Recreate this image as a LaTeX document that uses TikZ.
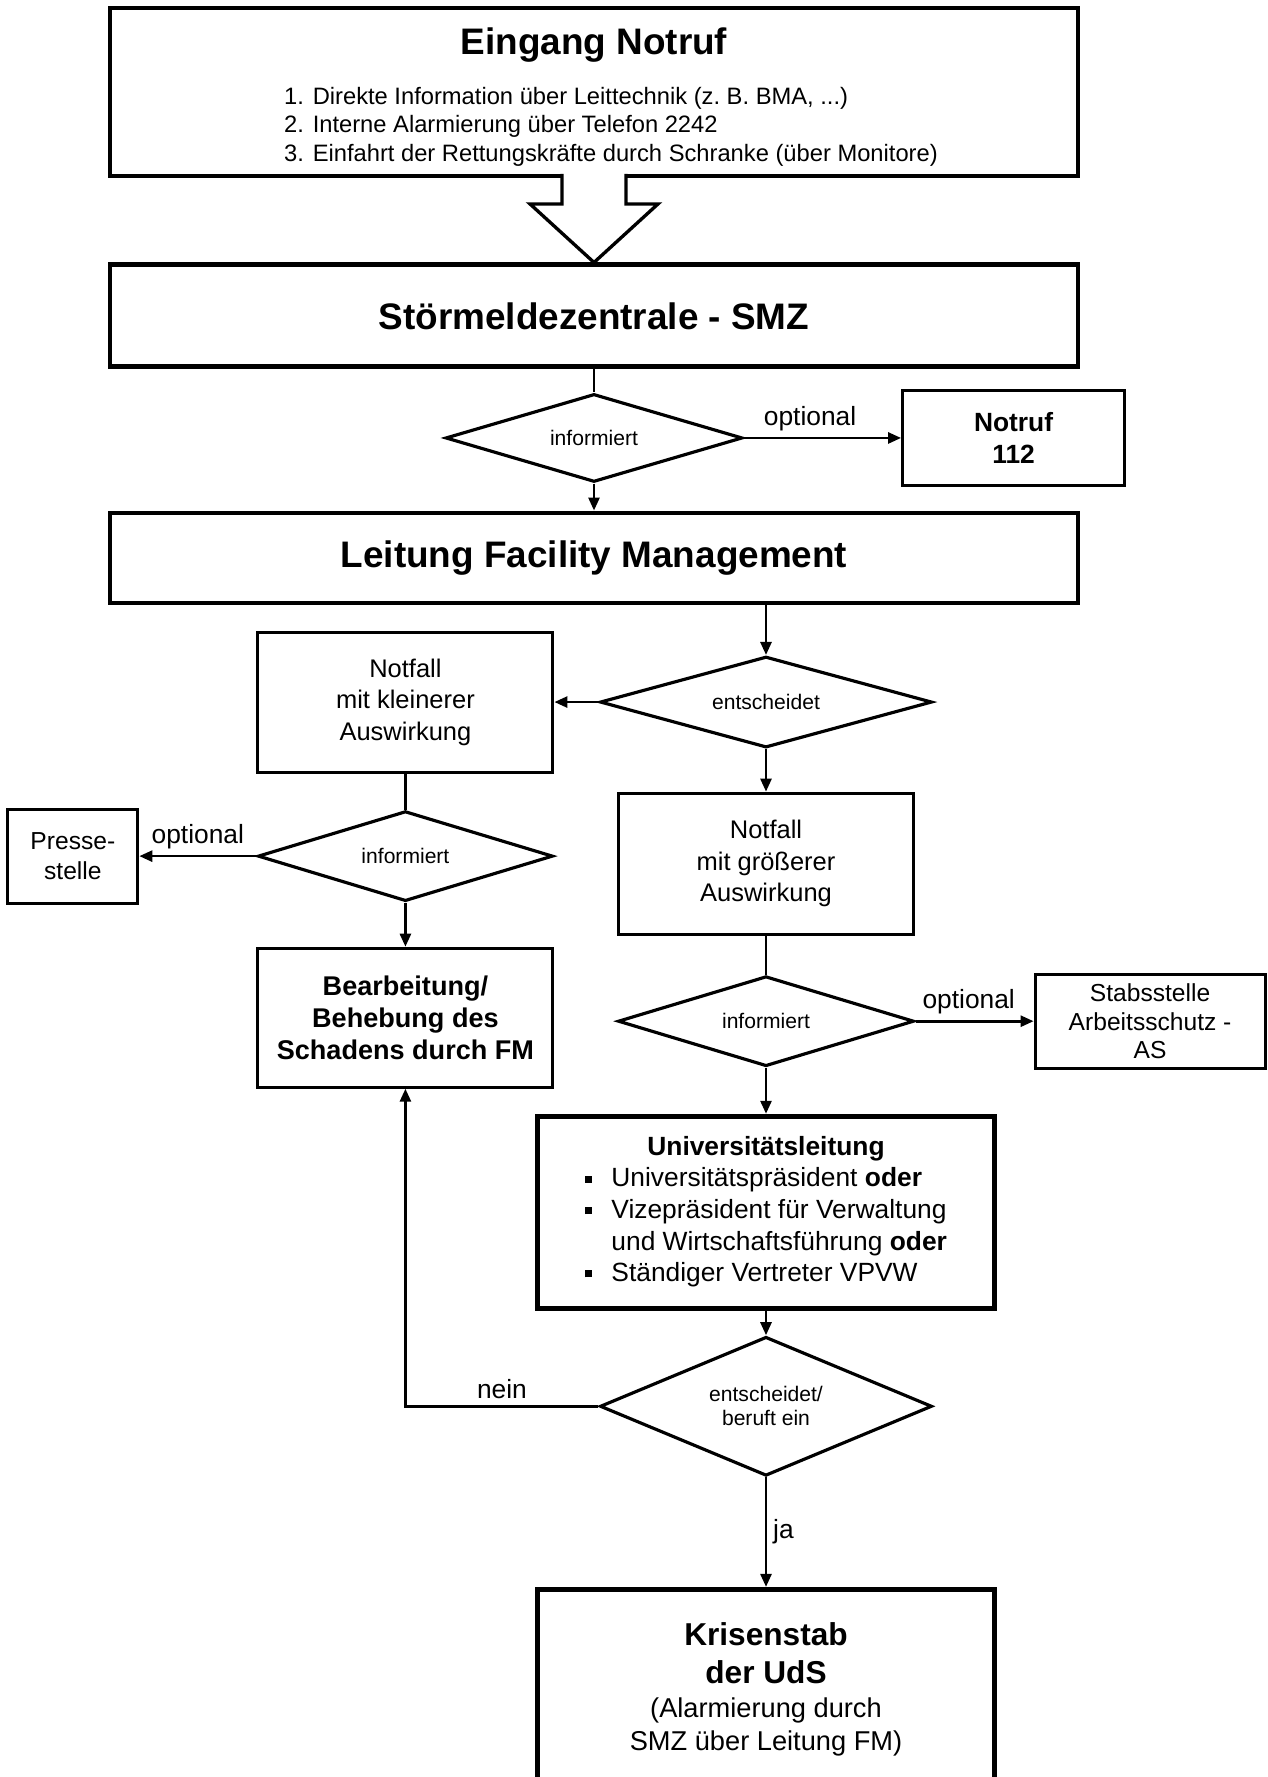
\documentclass[tikz,border=0pt]{standalone}
\usepackage{fontspec}
\setmainfont{Liberation Sans}
\usepackage{tikz}
\usetikzlibrary{shapes.geometric,arrows.meta,positioning,calc}
\newcommand{\sqbul}{\rule[2.5pt]{4pt}{4pt}}

\begin{document}
\begin{tikzpicture}
\tikzset{mainbox/.style={rectangle, draw, line width=2.8pt, align=center, inner sep=2pt},
 widebox/.style={mainbox, minimum width=19.36cm, font=\fontsize{21}{25}\selectfont\bfseries},
 smallbox/.style={rectangle, draw, line width=1.7pt, align=center, inner sep=2pt,
  font=\fontsize{14.5}{18}\selectfont},
 decide/.style={diamond, aspect=3.3, draw, line width=1.8pt, inner sep=0pt, align=center,
  font=\fontsize{12}{13.6}\selectfont},
 arr/.style={-{Triangle[length=2.6mm,width=2.2mm]}, line width=1.5pt},
 plain/.style={line width=1.5pt},
 lab/.style={font=\fontsize{15}{18}\selectfont},
 hollow/.style={fill=white, line width=1.9pt, line join=miter}}

\useasboundingbox (0,0) rectangle (25.34,-35.54);

\node[widebox, minimum height=3.36cm, font=\fontsize{13.5}{16.2}\selectfont] (eing) at (11.88,-1.84)
 {\begin{tabular}{@{}c@{}}
  \rule{0pt}{23pt}{\fontsize{21}{25}\selectfont\bfseries Eingang Notruf}\\[12.3pt]
  \hspace{0.68cm}\begin{tabular}[t]{@{}l@{}}
   1. Direkte Information über Leittechnik (z.~B. BMA, ...)\\
   2. Interne Alarmierung über Telefon 2242\\
   3. Einfahrt der Rettungskräfte durch Schranke (über Monitore)
  \end{tabular}
 \end{tabular}};
\node[widebox, minimum height=2.04cm, below=1.68cm of eing] (smz) {Störmeldezentrale - SMZ};
\node[decide, minimum width=5.94cm, minimum height=1.76cm, below=0.46cm of smz] (inf1) {informiert};
\node[smallbox, minimum width=4.44cm, minimum height=1.9cm, right=3.14cm of inf1,
 font=\fontsize{15}{18}\selectfont\bfseries] (notruf) {Notruf\\112};
\node[widebox, minimum height=1.8cm, below=0.54cm of inf1] (fm) {Leitung Facility Management};

\node[decide, minimum width=6.64cm, minimum height=1.82cm, below=0.99cm of fm, xshift=3.44cm] (ent1) {entscheidet};
\node[smallbox, minimum width=5.9cm, minimum height=2.8cm, left=0.88cm of ent1] (klein) {Notfall\\mit kleinerer\\Auswirkung};
\node[smallbox, minimum width=5.9cm, minimum height=2.82cm, below=0.85cm of ent1] (gross) {Notfall\\mit größerer\\Auswirkung};

\node[decide, minimum width=5.9cm, minimum height=1.8cm, below=0.72cm of klein] (inf2) {informiert};
\node[smallbox, minimum width=2.6cm, minimum height=1.88cm, left=2.34cm of inf2,
 font=\fontsize{14}{16.8}\selectfont] (presse) {Presse-\\stelle};
\node[smallbox, minimum width=5.9cm, minimum height=2.78cm, below=0.88cm of inf2,
 font=\fontsize{15.4}{18}\selectfont\bfseries] (bearb) {Bearbeitung/\\Behebung des\\Schadens durch FM};

\node[decide, minimum width=5.92cm, minimum height=1.8cm, below=0.78cm of gross] (inf3) {informiert};
\node[smallbox, minimum width=4.6cm, minimum height=1.88cm, right=2.36cm of inf3,
 font=\fontsize{14}{16}\selectfont] (stab) {Stabsstelle\\Arbeitsschutz -\\AS};

\node[mainbox, minimum width=9.14cm, minimum height=3.84cm, below=0.92cm of inf3,
 font=\fontsize{15}{18}\selectfont] (uni)
 {\begin{tabular}{@{}c@{\hspace{11pt}}l@{}}
  \multicolumn{2}{c}{\textbf{Universitätsleitung}}\\
  \sqbul & Universitätspräsident \textbf{oder}\\
  \sqbul & Vizepräsident für Verwaltung\\
         & und Wirtschaftsführung \textbf{oder}\\
  \sqbul & Ständiger Vertreter VPVW
 \end{tabular}};
\node[decide, aspect=2.4, minimum width=6.64cm, minimum height=2.78cm, below=0.49cm of uni] (ent2) {entscheidet/\\beruft ein};
\node[mainbox, minimum width=9.14cm, minimum height=4.08cm, below=2.19cm of ent2,
 font=\fontsize{15.5}{18.8}\selectfont] (kris)
 {\begin{tabular}{@{}c@{}}
  {\fontsize{18}{21.5}\selectfont\bfseries Krisenstab}\\[2.7pt]
  {\fontsize{18}{21.5}\selectfont\bfseries der UdS}\\[0.5pt]
  (Alarmierung durch\\
  SMZ über Leitung FM)
 \end{tabular}};

\filldraw[hollow] ($(eing.south)+(-0.64,0.09)$) -- ($(eing.south)+(-0.64,-0.51)$)
 -- ($(eing.south)+(-1.28,-0.51)$) -- (smz.north) -- ($(eing.south)+(1.28,-0.51)$)
 -- ($(eing.south)+(0.64,-0.51)$) -- ($(eing.south)+(0.64,0.09)$);

\draw[plain] (smz) -- (inf1);
\draw[arr] (inf1) -- (fm);
\draw[arr] (inf1) -- node[lab, above, pos=0.42] {optional} (notruf);
\draw[arr] (fm.south -| ent1.north) -- (ent1);
\draw[arr] (ent1) -- (klein);
\draw[arr] (ent1) -- (gross);
\draw[plain] (klein) -- (inf2);
\draw[arr] (inf2) -- node[lab, above] {optional} (presse);
\draw[arr] (inf2) -- (bearb);
\draw[plain] (gross) -- (inf3);
\draw[arr] (inf3) -- node[lab, above, pos=0.45] {optional} (stab);
\draw[arr] (inf3) -- (uni);
\draw[arr] (uni) -- (ent2);
\draw[arr] (ent2.west) -| node[lab, pos=0.25, above] {nein} (bearb.south);
\draw[arr] (ent2) -- node[lab, right] {ja} (kris);
\end{tikzpicture}
\end{document}
